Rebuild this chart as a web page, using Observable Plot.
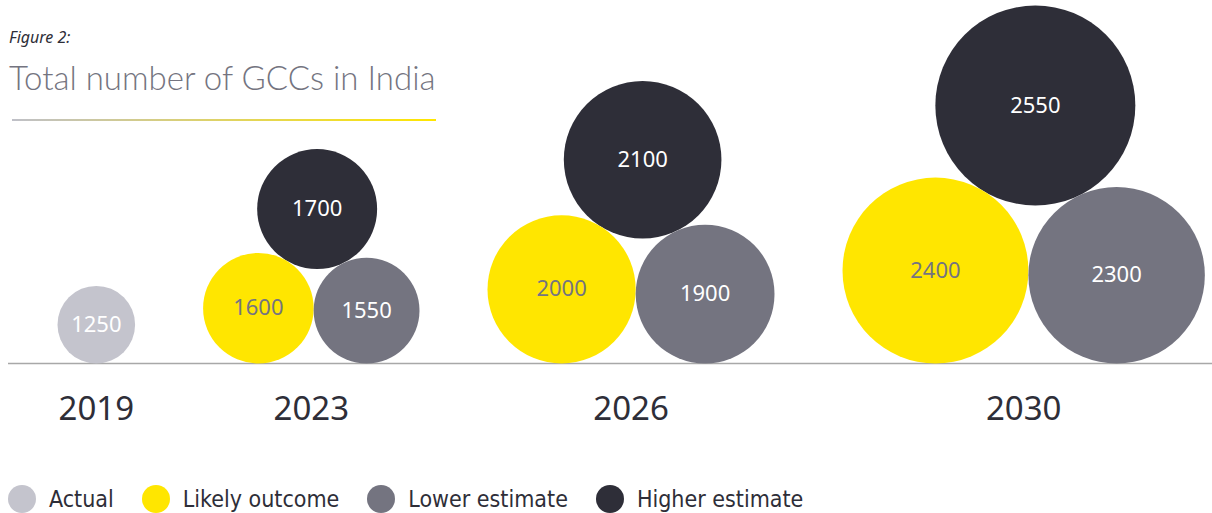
<!DOCTYPE html>
<html><head><meta charset="utf-8">
<script src="https://cdn.jsdelivr.net/npm/d3@7"></script>
<script src="https://cdn.jsdelivr.net/npm/@observablehq/plot@0.6"></script>
<style>
body{margin:0;background:#fff;}
#wrap{position:relative;width:1212px;height:513px;overflow:hidden;}
#chart{position:absolute;left:0;top:0;}
#fig{position:absolute;left:9px;top:27px;font:italic 16px "Noto Sans";color:#2e2e38;line-height:20px;}
#title{position:absolute;left:9px;top:58px;font:300 33px Lato;color:#747480;line-height:38px;white-space:nowrap;}
#rule{position:absolute;left:12px;top:119px;width:424px;height:2px;background:linear-gradient(to right,#bfc0c8,#ffe600);}
#legend{position:absolute;left:8px;top:485px;height:28px;display:flex;align-items:center;font-family:"DejaVu Sans";font-stretch:condensed;font-size:23px;color:#2e2e38;}
.it{display:flex;align-items:center;margin-right:28px;}
.sw{width:28px;height:28px;border-radius:50%;margin-right:13px;}
</style></head><body>
<div id="wrap">
<div id="chart"></div>
<div id="fig">Figure 2:</div>
<div id="title">Total number of GCCs in India</div>
<div id="rule"></div>
<div id="legend"></div>
</div>
<script>
const years = ["2019", "2023", "2026", "2030"];
const actual = [1250, null, null, null];
const likely = [null, 1600, 2000, 2400];
const lower = [null, 1550, 1900, 2300];
const higher = [null, 1700, 2100, 2550];
const seriesNames = ["Actual", "Likely outcome", "Lower estimate", "Higher estimate"];
const seriesColors = ["#c4c4cd", "#ffe600", "#747480", "#2e2e38"];

// radius scale (shared by layout and marks)
const rOpts = {type: "linear", domain: [1250, 2550], range: [38.8, 100]};
const rScale = Plot.scale({r: rOpts});
const R = v => rScale.apply(v);
const GAP = 68;

function tangent(A, da, B, db) {
  const dx = B.x - A.x, dy = B.y - A.y, d = Math.hypot(dx, dy);
  const a = (da * da - db * db + d * d) / (2 * d);
  const h = Math.sqrt(Math.max(0, da * da - a * a));
  const px = A.x + a * dx / d, py = A.y + a * dy / d;
  const c1 = {x: px - h * dy / d, y: py + h * dx / d};
  const c2 = {x: px + h * dy / d, y: py - h * dx / d};
  return c1.y > c2.y ? c1 : c2;
}

const circles = [], groups = [];
let cursor = 0;
years.forEach((year, i) => {
  const start = cursor;
  if (actual[i] != null) {
    const r = R(actual[i]);
    circles.push({year, series: "Actual", value: actual[i], x: cursor + r, y: r});
    cursor += 2 * r;
  } else {
    const rA = R(likely[i]), rB = R(lower[i]), rC = R(higher[i]);
    const A = {x: cursor + rA, y: rA};
    const B = {x: A.x + rA + rB, y: rB};
    const C = tangent(A, rA + rC, B, rB + rC);
    circles.push({year, series: "Likely outcome", value: likely[i], x: A.x, y: A.y});
    circles.push({year, series: "Lower estimate", value: lower[i], x: B.x, y: B.y});
    circles.push({year, series: "Higher estimate", value: higher[i], x: C.x, y: C.y});
    cursor = B.x + rB;
  }
  groups.push({year, x: (start + cursor) / 2});
  cursor += GAP;
});

const chart = Plot.plot({
  width: 1212, height: 470,
  marginTop: 0, marginBottom: 107, marginLeft: 8, marginRight: 0,
  x: {domain: [-49, 1155], axis: null},
  y: {domain: [0, 363], axis: null},
  r: rOpts,
  color: {domain: seriesNames, range: seriesColors},
  style: {background: "transparent", overflow: "visible", fontFamily: "Noto Sans"},
  marks: [
    Plot.ruleY([0], {stroke: "#a8a8a8", strokeWidth: 1.5}),
    Plot.dot(circles, {x: "x", y: "y", r: "value", fill: "series", stroke: null}),
    Plot.text(circles, {filter: d => d.series === "Likely outcome", x: "x", y: "y", text: d => String(d.value), fill: "#747480", fontSize: 22}),
    Plot.text(circles, {filter: d => d.series !== "Likely outcome", x: "x", y: "y", text: d => String(d.value), fill: "white", fontSize: 22}),
    Plot.text(groups, {x: "x", y: () => 0, text: "year", dy: 46, fontSize: 33, fill: "#2e2e38"})
  ]
});
document.getElementById("chart").appendChild(chart);

const legend = document.getElementById("legend");
seriesNames.forEach((name, i) => {
  const it = document.createElement("div");
  it.className = "it";
  const sw = document.createElement("div");
  sw.className = "sw";
  sw.style.background = seriesColors[i];
  const lab = document.createElement("span");
  lab.textContent = name;
  it.appendChild(sw); it.appendChild(lab);
  legend.appendChild(it);
});
</script>
</body></html>
